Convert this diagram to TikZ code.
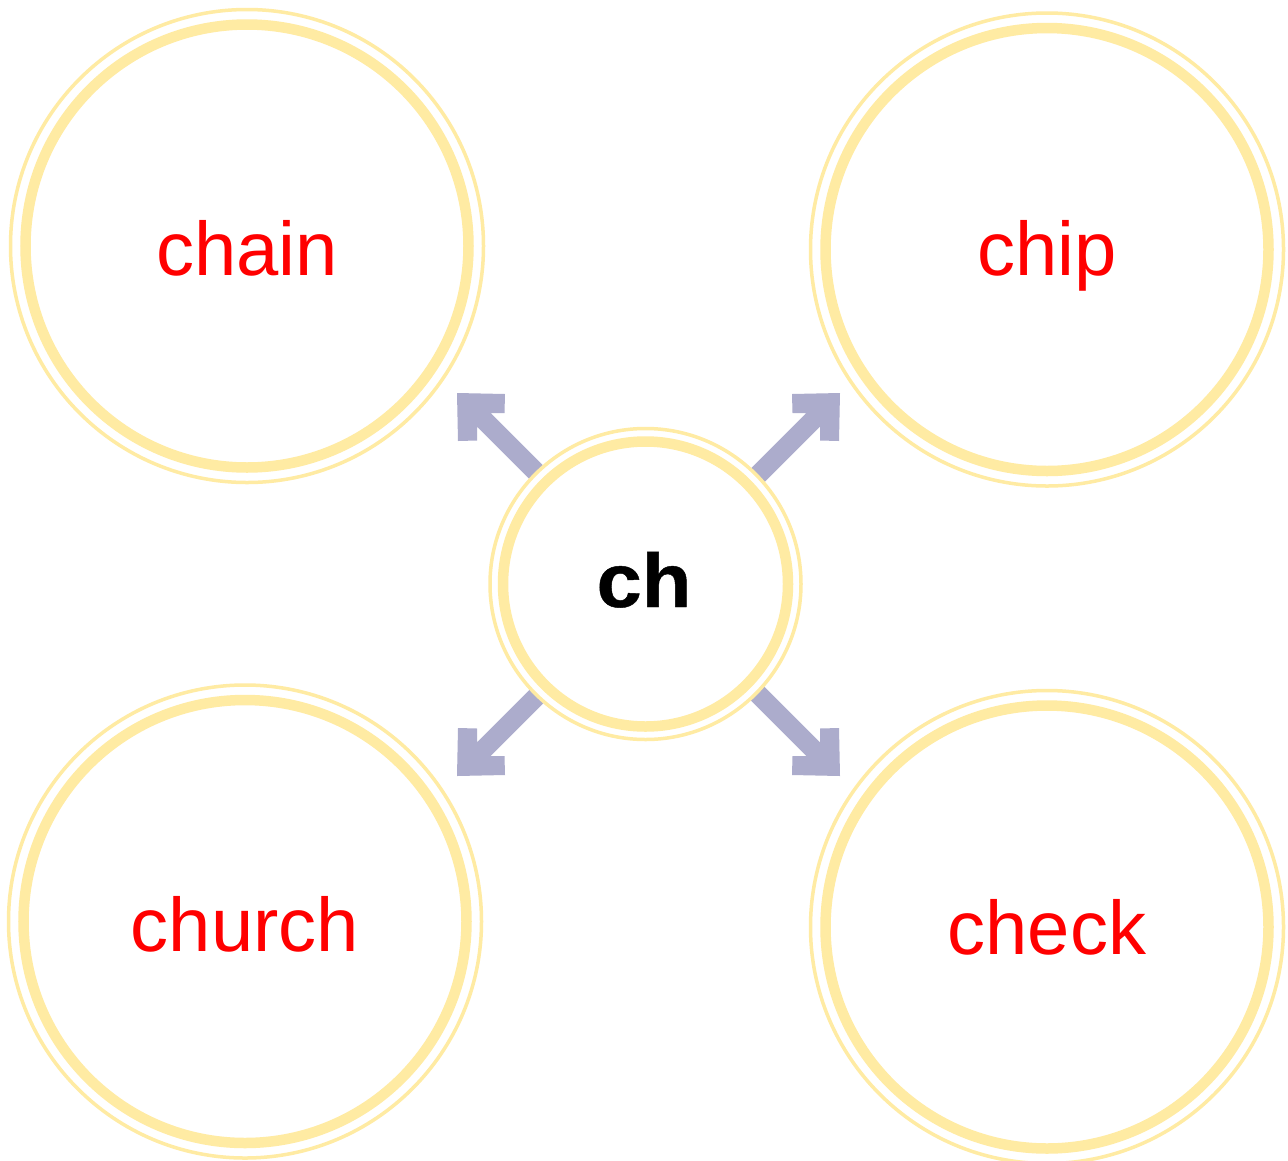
\documentclass[tikz,border=0pt]{standalone}
\usepackage{fontspec}
\setmainfont{Liberation Sans}
\newfontfamily\hubfont[FakeStretch=1.07,FakeBold=0.6]{Liberation Sans Bold}
\definecolor{ringyellow}{RGB}{255,235,163}
\definecolor{arrowblue}{RGB}{172,172,204}
\definecolor{wordred}{RGB}{255,0,0}
\begin{document}
\begin{tikzpicture}[x=1pt,y=-1pt,
  thinring/.style={draw=ringyellow,line width=3.5pt},
  thickring/.style={draw=ringyellow,line width=10.5pt},
  bigcircle/.style={circle,minimum size=473pt,inner sep=0pt,fill=white,thinring},
  hubcircle/.style={circle,minimum size=311pt,inner sep=0pt,fill=white,thinring},
  word/.style={text=wordred,font=\fontsize{76}{80}\selectfont,anchor=base,inner sep=0pt},
  hubword/.style={text=black,font=\hubfont\fontsize{76}{80}\selectfont,anchor=base,inner sep=0pt},
  blockarrow/.style={fill=arrowblue,draw=none}]
\useasboundingbox (0,0) rectangle (1288,1160);
\fill[white] (0,0) rectangle (1288,1160);

% arrow tips
\coordinate (tipTL) at (457,393);
\coordinate (tipTR) at (840,393);
\coordinate (tipBL) at (457,776);
\coordinate (tipBR) at (840,776);

\foreach \t/\sx/\sy in {tipTL/1/1, tipTR/-1/1, tipBL/1/-1, tipBR/-1/-1}{
  \fill[blockarrow, shift={(\t)}, xscale=\sx, yscale=\sy]
    (0,0) -- (48,1) -- (47.5,20) -- (33.65,20) -- (113.65,100) -- (100,113.65)
    -- (20,33.65) -- (20,47.5) -- (1,48) -- cycle;
}

% outer circles
\node[bigcircle] (chain) at (247,246) {};
\draw[thickring] (chain.center) circle[radius=221.5];
\node[bigcircle] (chip) at (1047,249.5) {};
\draw[thickring] (chip.center) circle[radius=221.5];
\node[bigcircle] (church) at (245,921.5) {};
\draw[thickring] (church.center) circle[radius=221.5];
\node[bigcircle] (check) at (1047,927) {};
\draw[thickring] (check.center) circle[radius=221.5];

% hub
\node[hubcircle] (hub) at (645.5,584) {};
\draw[thickring] (hub.center) circle[radius=142.5];

% texts
\node[word] (chaintxt) at (247,275) {chain};
\node[word] (chiptxt) at (1047,275) {chip};
\node[word] (churchtxt) at (245,951) {church};
\node[word] (checktxt) at (1047,954) {check};
\node[hubword] (hubtxt) at (644,607) {ch};
\end{tikzpicture}
\end{document}
